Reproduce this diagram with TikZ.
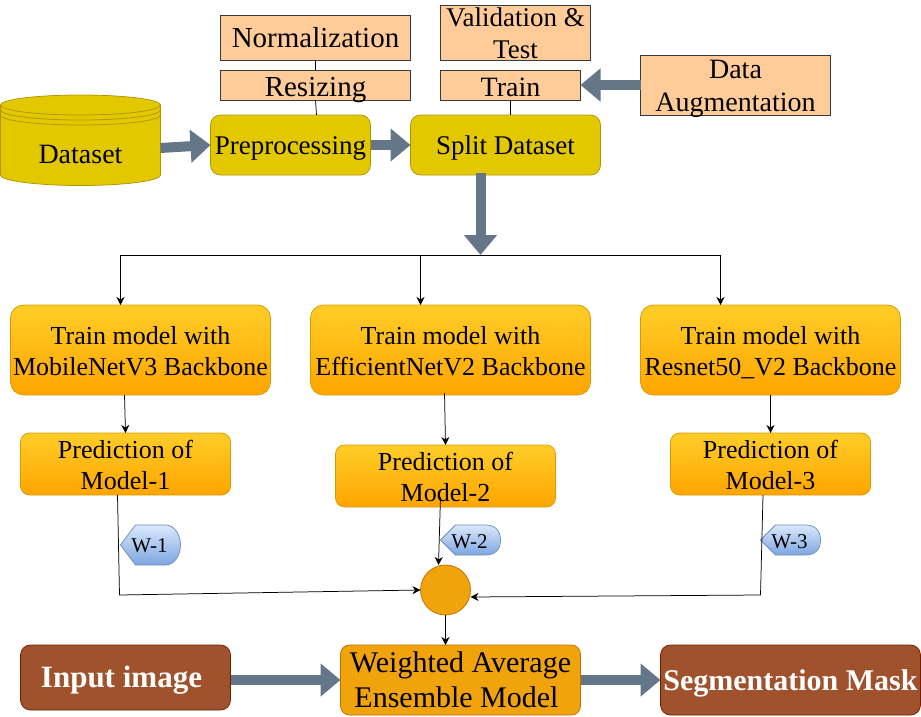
\documentclass[tikz,border=0pt]{standalone}
\usepackage{fontspec}
\setmainfont{Liberation Serif}
\usetikzlibrary{arrows.meta, positioning, calc}
\definecolor{peach}{HTML}{FFCC99}
\definecolor{peachline}{HTML}{36393D}
\definecolor{olive}{HTML}{E3C800}
\definecolor{oliveline}{HTML}{B09500}
\definecolor{ambertop}{HTML}{FFCD28}
\definecolor{amberbot}{HTML}{FFA500}
\definecolor{amberline}{HTML}{D79B00}
\definecolor{ensemble}{HTML}{F0A30A}
\definecolor{ensembleline}{HTML}{BD7000}
\definecolor{brownbox}{HTML}{A0522D}
\definecolor{brownline}{HTML}{6D1F00}
\definecolor{bluetop}{HTML}{DAE8FC}
\definecolor{bluebot}{HTML}{7EA6E0}
\definecolor{blueline}{HTML}{6C8EBF}
\definecolor{slate}{HTML}{647687}
\newcommand{\drop}[2]{\raisebox{-#1pt}[0pt][0pt]{#2}}
\tikzset{base-box/.style = {
  align=center, inner sep=0pt, outer sep=0pt, line width=0.75pt,
  minimum width=#1
  }}
\tikzset{note/.style = {base-box=190pt, fill=peach, draw=peachline}}
\tikzset{stage/.style = {base-box=160pt, fill=olive, draw=oliveline, rounded corners=10pt}}
\tikzset{train/.style = {base-box=260pt, minimum height=90pt, top color=ambertop, bottom color=amberbot,
  draw=amberline, rounded corners=13pt, font=\fontsize{26}{31}\selectfont}}
\tikzset{pred/.style = {base-box=210pt, minimum height=62pt, top color=ambertop, bottom color=amberbot,
  draw=amberline, rounded corners=9pt, font=\fontsize{26}{31}\selectfont}}
\tikzset{result/.style = {base-box=210pt, fill=brownbox, draw=brownline, text=white, rounded corners=10pt}}
\tikzset{wire/.style = {->, >={Stealth[length=8pt,width=8pt,inset=2.5pt]}, line width=0.75pt}}
\tikzset{link/.style = {line width=0.75pt}}
\tikzset{block/.style = {-{Triangle[width=32pt,length=20pt]}, line width=10pt, draw=slate, fill=slate}}
\tikzset{weight/.style = {top color=bluetop, bottom color=bluebot, draw=blueline, line width=0.75pt}}

\begin{document}
\begin{tikzpicture}[x=1pt, y=-1pt]
\useasboundingbox (0,0) rectangle (921,717);

	% Dataset drum
	\draw[fill=olive, draw=oliveline, line width=0.75pt] (0.5,105) -- (0.5,175)
		arc[start angle=180, end angle=360, x radius=80pt, y radius=10.5pt]
		-- (160.5,105)
		arc[start angle=0, end angle=180, x radius=80pt, y radius=10pt] -- cycle;
	\foreach \rim in {105,110,115}
		\draw[draw=oliveline, line width=0.75pt] (0.5,\rim)
			arc[start angle=180, end angle=360, x radius=80pt, y radius=10pt];
	\node (dataset) [base-box=160pt, font=\fontsize{28}{34}\selectfont] at (80.5,148) {\drop{15.3}{Dataset}};

	% Upper row
	\node (preprocessing) [stage, minimum height=60pt, font=\fontsize{27}{32}\selectfont] at (290.5,145) {\drop{9.3}{Preprocessing}};
	\node (split) [stage, minimum width=190pt, minimum height=60pt, font=\fontsize{27}{32}\selectfont] at (505.5,145) {\drop{9.3}{Split Dataset}};
	\node (normalization) [note, minimum height=45pt, font=\fontsize{29}{34}\selectfont] at (315.5,37.5) {\drop{10.5}{Normalization}};
	\node (resizing) [note, minimum height=30pt, font=\fontsize{29}{34}\selectfont] at (315.5,85) {\drop{11}{Resizing}};
	\node (validation) [note, minimum width=150pt, minimum height=55pt, font=\fontsize{27}{32.7}\selectfont] at (515.5,32.5) {\drop{9.9}{Validation \&}\\\drop{9.9}{Test}};
	\node (trainset) [note, minimum width=140pt, minimum height=30pt, font=\fontsize{28}{34}\selectfont] at (510.5,85) {\drop{11}{Train}};
	\node (augmentation) [note, minimum height=60pt, font=\fontsize{28}{33.4}\selectfont] at (735.5,85) {\drop{10}{Data}\\\drop{10}{Augmentation}};

	% Models
	\node (mobile) [train] at (140.5,350) {\drop{9.5}{Train model with}\\\drop{9.5}{MobileNetV3 Backbone}};
	\node (efficient) [train, minimum width=280pt] at (450.5,350) {\drop{9.5}{Train model with}\\\drop{9.5}{EfficientNetV2 Backbone}};
	\node (resnet) [train] at (770.5,350) {\drop{9.5}{Train model with}\\\drop{9.5}{Resnet50\_V2 Backbone}};
	\node (predone) [pred] at (125.5,464) {\drop{9.7}{Prediction of}\\\drop{9.7}{Model-1}};
	\node (predtwo) [pred, minimum width=220pt] at (445.5,476) {\drop{9.5}{Prediction of}\\\drop{9.5}{Model-2}};
	\node (predthree) [pred, minimum width=200pt] at (770.5,464) {\drop{9.7}{Prediction of}\\\drop{9.7}{Model-3}};

	% Weights
	\foreach \n/\wx/\wtop/\wbot/\wdrop/\wtext in {wone/120.5/525/565/7.7/W-1, wtwo/440.5/525/555/8.3/W-2, wthree/760.5/525/555/8.3/W-3}
	{	\pgfmathsetmacro{\wmid}{(\wtop+\wbot)/2}
		\draw[weight] (\wx,\wmid) -- (\wx+15,\wtop) -- (\wx+45,\wtop)
			.. controls (\wx+54,\wtop) and (\wx+60,\wmid-10) .. (\wx+60,\wmid)
			.. controls (\wx+60,\wmid+10) and (\wx+54,\wbot) .. (\wx+45,\wbot)
			-- (\wx+15,\wbot) -- cycle;
		\node (\n) [inner sep=0pt, font=\fontsize{21}{24}\selectfont] at (\wx+29,\wmid) {\drop{\wdrop}{\wtext}};
	}

	% Bottom row
	\node (merge) [circle, fill=ensemble, draw=ensembleline, line width=0.75pt, minimum size=50pt, inner sep=0pt, outer sep=0pt] at (445.5,590) {};
	\node (input) [result, minimum height=65pt, font=\fontsize{31}{36}\bfseries\selectfont] at (125.5,677.5) {\drop{9.8}{Input image\kern8pt}};
	\node (ensemble) [base-box=240pt, minimum height=70pt, fill=ensemble, draw=ensembleline, rounded corners=9pt, font=\fontsize{30}{35}\selectfont] at (460.5,680) {\drop{10.3}{Weighted Average}\\\drop{10.3}{Ensemble Model\kern8pt}};
	\node (mask) [result, minimum width=260pt, minimum height=70pt, font=\fontsize{30}{36}\bfseries\selectfont] at (790.5,680) {\drop{10}{Segmentation Mask}};

	% Thick arrows
	\coordinate (fork) at (480.5,255);
	\coordinate (forkleft) at (120.5,255);
	\coordinate (forkmid) at (420.5,255);
	\coordinate (forkright) at (720.5,255);
	\draw[block] (dataset.east) -- (preprocessing.west);
	\draw[block] (preprocessing.east) -- (split.west);
	\draw[block] (augmentation.west) -- (trainset.east);
	\draw[block] ([xshift=-25pt,yshift=2pt]split.south) -- (fork);
	\draw[block] ([yshift=-2.5pt]input.east) -- (ensemble.west);
	\draw[block] (ensemble.east) -- (mask.west);

	% Thin lines
	\draw[link] (normalization.south) -- (resizing.north);
	\draw[link] (resizing.south) -- ([xshift=26pt]preprocessing.north);
	\draw[link] (trainset.south) -- (trainset.south |- split.north);
	\draw[link] (forkleft) -- (forkright);
	\draw[wire] (forkleft) -- (forkleft |- mobile.north);
	\draw[wire] (forkmid) -- (forkmid |- efficient.north);
	\draw[wire] (forkright) -- (forkright |- resnet.north);
	\draw[wire] ([xshift=-16pt]mobile.south) -- (predone.north);
	\draw[wire] ([xshift=-6pt,yshift=2pt]efficient.south) -- (predtwo.north);
	\draw[wire] (resnet.south) -- (predthree.north);
	\coordinate (cornerone) at (119.5,595);
	\coordinate (cornerthree) at (760.5,595);
	\draw[wire] ([xshift=-8pt]predone.south) -- (cornerone) -- (merge.west);
	\draw[wire] ([xshift=-5pt,yshift=10pt]predtwo.south) -- ([xshift=-7pt]merge.north);
	\draw[wire] ([xshift=-7.5pt]predthree.south) -- (cornerthree) -- ([yshift=-7pt]merge.east);
	\draw[wire] (merge.south) -- (ensemble.north -| merge.south);

\end{tikzpicture}
\end{document}
